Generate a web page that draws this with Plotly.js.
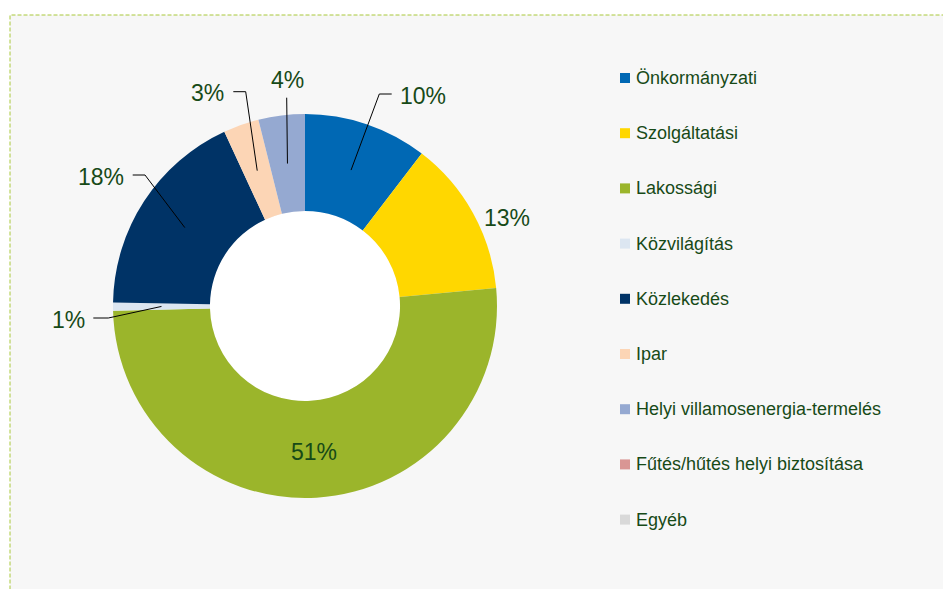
<!DOCTYPE html>
<html>
<head>
<meta charset="utf-8">
<script src="https://cdn.plot.ly/plotly-3.0.1.min.js"></script>
<style>html,body{margin:0;padding:0;background:#fff;}#chart{width:943px;height:589px;}</style>
</head>
<body>
<div id="chart"></div>
<script>
// ---- data ----
const categories = ["Önkormányzati", "Szolgáltatási", "Lakossági", "Közvilágítás", "Közlekedés", "Ipar", "Helyi villamosenergia-termelés", "Fűtés/hűtés helyi biztosítása", "Egyéb"];
const shares = [10.4, 13.1, 51.1, 0.7, 17.8, 3.0, 3.9, 0, 0];
const colors = ["#0068b4", "#ffd700", "#9bb52b", "#dce6f1", "#003366", "#fcd5b5", "#95a9d1", "#d99694", "#d9d9d9"];

// ---- layout config (pixels) ----
const W = 943, H = 589;
const CX = 305, CY = 306, R = 192, HOLE = 0.495;
const TEXT = "#174a17";
const FONT = "Arial, 'Liberation Sans', sans-serif";
// label placement per slice: text centre, optional leader path (elbow, end)
const labelPlace = [
  {t: [423, 96], line: [[379.3, 94], [391.7, 94]]},
  {t: [507, 218]},
  {inside: true, dy: 3},
  {t: [68, 320], line: [[108.3, 318], [93.3, 318]]},
  {t: [101, 177], line: [[145, 175], [132.7, 175]]},
  {t: [207, 93], line: [[245.7, 91.7], [233.3, 91.7]]},
  {t: [287, 80], line: [[286.7, 97.7]]},
  null, null
];
const LEG_X = 620, LEG_Y0 = 78, LEG_DY = 55.2, LEG_SQ = 10;

const px = x => x / W;
const py = y => 1 - y / H;

const total = shares.reduce((a, b) => a + b, 0);
const shapes = [];
const annotations = [];

// background panel with dashed frame
shapes.push({type: "rect", xref: "paper", yref: "paper", layer: "below",
  x0: px(10), x1: 1.02, y0: -0.02, y1: py(15),
  fillcolor: "#f7f7f7", line: {color: "#a9c83a", width: 1, dash: "4px,2px"}});
// white hole
const rH = R * HOLE;
shapes.push({type: "circle", xref: "paper", yref: "paper", layer: "below",
  x0: px(CX - rH), x1: px(CX + rH), y0: py(CY + rH), y1: py(CY - rH),
  fillcolor: "#ffffff", line: {width: 0}});

// data labels and leader lines derived from slice angles
let cum = 0;
shares.forEach((v, i) => {
  const start = cum; cum += v;
  const p = labelPlace[i];
  if (!p || v <= 0) return;
  const mid = (start + v / 2) / total * 2 * Math.PI;
  const rMid = (R + rH) / 2;
  const ax = CX + rMid * Math.sin(mid), ay = CY - rMid * Math.cos(mid);
  const txt = Math.round(v / total * 100) + "%";
  let tx, ty;
  if (p.inside) { tx = ax; ty = ay + (p.dy || 0); }
  else { tx = p.t[0]; ty = p.t[1]; }
  if (p.line) {
    let d = "M" + px(ax) + "," + py(ay);
    p.line.forEach(pt => { d += " L" + px(pt[0]) + "," + py(pt[1]); });
    shapes.push({type: "path", xref: "paper", yref: "paper", layer: "above", path: d,
      line: {color: "#000000", width: 1}});
  }
  annotations.push({xref: "paper", yref: "paper", x: px(tx), y: py(ty), text: txt,
    showarrow: false, xanchor: "center", yanchor: "middle",
    font: {family: FONT, size: 23, color: TEXT}});
});

// legend
categories.forEach((c, i) => {
  const y = LEG_Y0 + i * LEG_DY;
  shapes.push({type: "rect", xref: "paper", yref: "paper", layer: "above",
    x0: px(LEG_X), x1: px(LEG_X + LEG_SQ), y0: py(y + LEG_SQ / 2), y1: py(y - LEG_SQ / 2),
    fillcolor: colors[i], line: {width: 0}});
  annotations.push({xref: "paper", yref: "paper", x: px(LEG_X + LEG_SQ + 4), y: py(y),
    text: c, showarrow: false, xanchor: "left", yanchor: "middle",
    font: {family: FONT, size: 18, color: TEXT}});
});

const trace = {
  type: "pie", labels: categories, values: shares, sort: false, direction: "clockwise", rotation: 0,
  hole: HOLE, marker: {colors: colors, line: {width: 0}}, textinfo: "none", hoverinfo: "none",
  showlegend: false,
  domain: {x: [px(CX - R), px(CX + R)], y: [py(CY + R), py(CY - R)]}
};

Plotly.newPlot("chart", [trace], {
  width: W, height: H, margin: {l: 0, r: 0, t: 0, b: 0},
  paper_bgcolor: "#ffffff", showlegend: false,
  shapes: shapes, annotations: annotations
}, {staticPlot: true});
</script>
</body>
</html>
